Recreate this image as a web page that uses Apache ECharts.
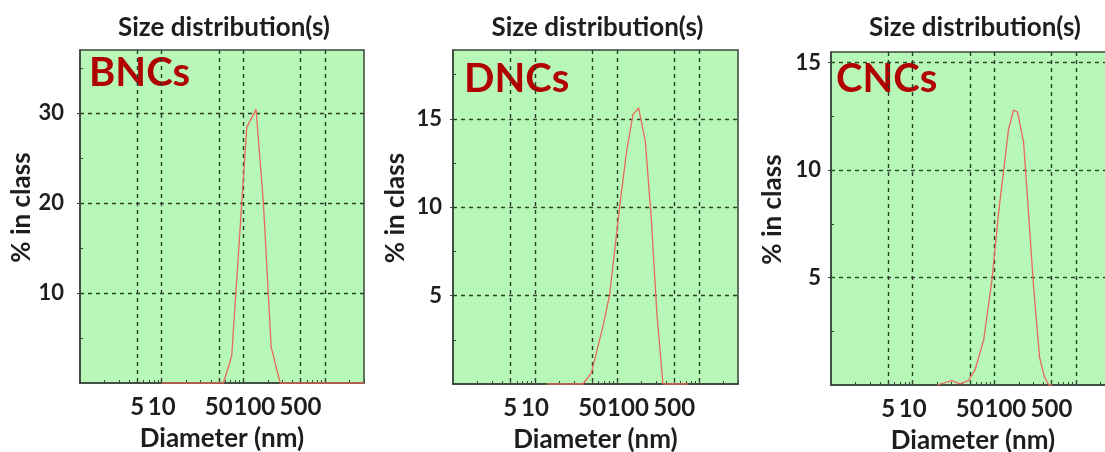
<!DOCTYPE html>
<html>
<head>
<meta charset="utf-8">
<script src="https://cdn.jsdelivr.net/npm/echarts@6/dist/echarts.min.js"></script>
<style>
html, body { margin: 0; padding: 0; background: #fff; }
#chart { width: 1105px; height: 452px; }
</style>
</head>
<body>
<div id="chart"></div>
<script>
// values
var bncDiameter = [10, 57, 72, 110, 143, 176, 219, 282, 3000];
var bncPercent  = [0, 0, 3.0, 28.4, 30.4, 20.0, 4.0, 0, 0];

var dncDiameter = [14, 38.5, 48.7, 67.5, 81.5, 108, 132, 157, 184, 222, 263, 307, 364, 725];
var dncPercent  = [0, 0, 0.62, 3.26, 5.05, 10.05, 13.26, 15.24, 15.62, 13.73, 9.3, 4.0, 0, 0];

var cncDiameter = [20, 30, 38, 48, 58, 74, 93.5, 112.5, 132, 149, 172, 192, 228, 262, 302, 357, 408, 461, 510];
var cncPercent  = [0, 0.2, 0.05, 0.2, 0.7, 2.1, 4.9, 8.0, 10.2, 11.9, 12.8, 12.7, 11.3, 8.0, 4.6, 1.3, 0.4, 0, 0];

var panelNames = ['BNCs', 'DNCs', 'CNCs'];
var chartTitle = 'Size distribution(s)';
var xName = 'Diameter (nm)';
var yName = '% in class';

// tick values
var xMajorTicks = [5, 10, 50, 100, 500, 1000];
var xTickLabels = [5, 10, 50, 100, 500];
var xMinorTicks = [2, 3, 4, 6, 7, 8, 9, 20, 30, 40, 60, 70, 80, 90, 200, 300, 400, 600, 700, 800, 900, 2000, 3000];
var bncYTicks = [10, 20, 30];
var bncYMinor = [5, 15, 25, 35];
var dncYTicks = [5, 10, 15];
var dncYMinor = [2.5, 7.5, 12.5, 17.5];
var cncYTicks = [5, 10, 15];
var cncYMinor = [2.5, 7.5, 12.5];

var panels = [
    { x: bncDiameter, y: bncPercent, yMax: 37, yTicks: bncYTicks, yMinor: bncYMinor,
      grid: { left: 80, top: 50, width: 284, height: 333 }, labelMargin: 16, nameGap: 42,
      tag: { x: 89, y: 73 } },
    { x: dncDiameter, y: dncPercent, yMax: 18.9, yTicks: dncYTicks, yMinor: dncYMinor,
      grid: { left: 453, top: 50, width: 285, height: 334 }, labelMargin: 11, nameGap: 44,
      tag: { x: 464, y: 79 } },
    { x: cncDiameter, y: cncPercent, yMax: 15.5, yTicks: cncYTicks, yMinor: cncYMinor,
      grid: { left: 831, top: 52, width: 284, height: 333 }, labelMargin: 10, nameGap: 45,
      tag: { x: 836, y: 79 } }
];

var axisColor = '#3a453a';
var textColor = '#1e1e1e';
var fontFamily = 'Lato';

var option = {
    backgroundColor: '#fff',
    animation: false,
    grid: [], xAxis: [], yAxis: [], series: [], graphic: []
};

panels.forEach(function (p, i) {
    option.grid.push({
        left: p.grid.left, top: p.grid.top, width: p.grid.width, height: p.grid.height,
        outerBoundsMode: 'none', containLabel: false,
        show: true, backgroundColor: '#b7f7b7', borderColor: axisColor, borderWidth: 1.5
    });
    // main x axis: grid lines at 5,10,50,100,500,1000
    option.xAxis.push({
        type: 'log', logBase: 10, min: 1, max: 3000, gridIndex: i, position: 'bottom',
        axisLine: { show: true, onZero: false, lineStyle: { color: axisColor, width: 1.5 } },
        axisTick: { show: true, inside: true, length: 4, customValues: xMajorTicks, lineStyle: { color: axisColor } },
        axisLabel: {
            customValues: xTickLabels, margin: 12, fontSize: 24, fontWeight: 'bold', color: textColor, fontFamily: fontFamily,
            // "100" sits a little right of its tick in the original, next to "50"
            formatter: function (v) { return v === 100 ? '{r|100}' : String(v); },
            rich: { r: { padding: [0, 0, 0, 22], fontSize: 24, fontWeight: 'bold', color: textColor, fontFamily: fontFamily } }
        },
        splitLine: { show: true, lineStyle: { type: [4, 4], color: '#283f28', width: 1.4 } },
        name: xName, nameLocation: 'middle', nameGap: 43,
        nameTextStyle: { fontSize: 26, fontWeight: 'bold', color: textColor, fontFamily: fontFamily }
    });
    // minor log ticks
    option.xAxis.push({
        type: 'log', logBase: 10, min: 1, max: 3000, gridIndex: i, position: 'bottom',
        axisLine: { show: false, onZero: false },
        axisTick: { show: true, inside: true, length: 3, customValues: xMinorTicks, lineStyle: { color: axisColor } },
        axisLabel: { show: false },
        splitLine: { show: false }
    });
    option.yAxis.push({
        type: 'value', min: 0, max: p.yMax, gridIndex: i, position: 'left',
        axisLine: { show: true, onZero: false, lineStyle: { color: axisColor, width: 1.5 } },
        axisTick: { show: true, inside: false, length: 3, customValues: p.yTicks, lineStyle: { color: axisColor } },
        axisLabel: { customValues: p.yTicks, margin: p.labelMargin, fontSize: 22, fontWeight: 'bold', color: textColor, fontFamily: fontFamily },
        splitLine: { show: true, lineStyle: { type: [4, 4], color: '#283f28', width: 1.4 } },
        name: yName, nameLocation: 'middle', nameGap: p.nameGap,
        nameTextStyle: { fontSize: 26, fontWeight: 'bold', color: textColor, fontFamily: fontFamily, padding: [0, 0, 0, 18] }
    });
    option.yAxis.push({
        type: 'value', min: 0, max: p.yMax, gridIndex: i, position: 'left',
        axisLine: { show: false, onZero: false },
        axisTick: { show: true, inside: true, length: 3, customValues: p.yMinor, lineStyle: { color: axisColor } },
        axisLabel: { show: false },
        splitLine: { show: false }
    });
    option.series.push({
        type: 'line', xAxisIndex: 2 * i, yAxisIndex: 2 * i,
        symbol: 'none', smooth: false,
        lineStyle: { color: '#e8695b', width: 1.3 },
        data: p.x.map(function (d, k) { return [d, p.y[k]]; })
    });
    var cx = p.grid.left + p.grid.width / 2 + 2;
    option.graphic.push({
        type: 'text', x: cx, y: 28,
        style: { text: chartTitle, font: 'bold 26px ' + fontFamily, fill: textColor, align: 'center', verticalAlign: 'middle' }
    });
    option.graphic.push({
        type: 'text', x: p.tag.x, y: p.tag.y,
        style: { text: panelNames[i], font: 'bold 40px ' + fontFamily, fill: '#b10000', align: 'left', verticalAlign: 'middle' }
    });
});

var chart = echarts.init(document.getElementById('chart'));
chart.setOption(option);
</script>
</body>
</html>
